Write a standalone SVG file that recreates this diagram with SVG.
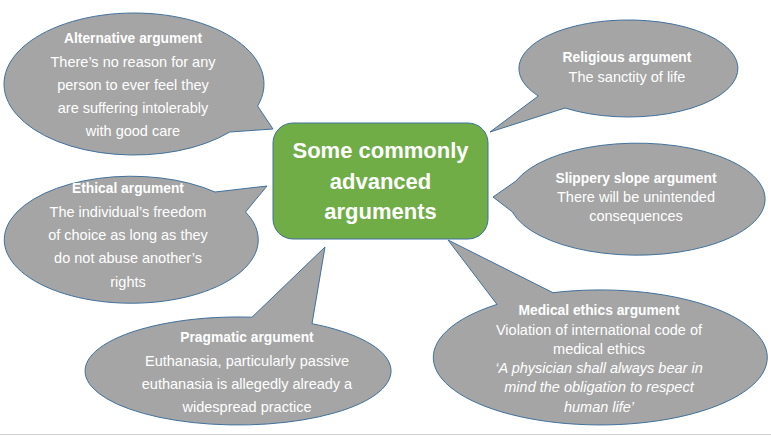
<svg xmlns="http://www.w3.org/2000/svg" width="771" height="436" viewBox="0 0 771 436">
  <style>
    .bubble { fill: #A5A5A5; stroke: #41719C; stroke-width: 1; }
    .t { font-family: "Liberation Sans", Arial, sans-serif; fill: #FFFFFF; text-anchor: middle; }
    .h { font-size: 13.8px; font-weight: bold; }
    .b { font-size: 14.5px; }
    .i { font-style: italic; }
    .center { fill: #70AD47; stroke: #41719C; stroke-width: 1; }
    .ct { font-family: "Liberation Sans", Arial, sans-serif; fill: #FFFFFF; text-anchor: middle; font-size: 22px; font-weight: bold; }
  </style>
  <rect x="0" y="0" width="771" height="436" fill="#FFFFFF"/>
  <line x1="0" y1="434.5" x2="771" y2="434.5" stroke="#D0D0D0" stroke-width="1.2"/>

  <g id="center-node">
    <rect class="center" x="273" y="123" width="215" height="116" rx="20" ry="20"/>
    <text class="ct" x="380.5" y="158">Some commonly</text>
    <text class="ct" x="380.5" y="189">advanced</text>
    <text class="ct" x="380.5" y="219">arguments</text>
  </g>

  <g id="alternative-argument">
    <path class="bubble" d="M 257.6,106 L 273,129 L 229.8,132 A 130 71 0 1 1 257.6,106 Z"/>
    <text class="t h" x="133" y="43">Alternative argument</text>
    <text class="t b" x="133" y="67">There’s no reason for any</text>
    <text class="t b" x="133" y="90">person to ever feel they</text>
    <text class="t b" x="133" y="113">are suffering intolerably</text>
    <text class="t b" x="133" y="136">with good care</text>
  </g>

  <g id="religious-argument">
    <path class="bubble" d="M 538.3,96 L 490,132 L 565,108 A 109.5 48.5 0 1 0 538.3,96 Z"/>
    <text class="t h" x="627" y="62">Religious argument</text>
    <text class="t b" x="627" y="82">The sanctity of life</text>
  </g>

  <g id="ethical-argument">
    <path class="bubble" d="M 215,192 L 267,186 L 245.5,212 A 127 63.5 0 1 1 215,192 Z"/>
    <text class="t h" x="128" y="193">Ethical argument</text>
    <text class="t b" x="128" y="217">The individual’s freedom</text>
    <text class="t b" x="128" y="240">of choice as long as they</text>
    <text class="t b" x="128" y="263">do not abuse another’s</text>
    <text class="t b" x="128" y="287">rights</text>
  </g>

  <g id="slippery-slope-argument">
    <path class="bubble" d="M 516,181 L 493,197 L 512.5,212 A 128 56 0 1 0 516,181 Z"/>
    <text class="t h" x="636" y="183">Slippery slope argument</text>
    <text class="t b" x="636" y="202">There will be unintended</text>
    <text class="t b" x="636" y="221">consequences</text>
  </g>

  <g id="pragmatic-argument">
    <path class="bubble" d="M 252,317.2 L 325,247 L 312,323.7 A 153 54 0 1 1 252,317.2 Z"/>
    <text class="t h" x="247" y="342">Pragmatic argument</text>
    <text class="t b" x="247" y="366">Euthanasia, particularly passive</text>
    <text class="t b" x="247" y="389">euthanasia is allegedly already a</text>
    <text class="t b" x="247" y="412">widespread practice</text>
  </g>

  <g id="medical-ethics-argument">
    <path class="bubble" d="M 497,304.4 L 448,240 L 553,292.7 A 167 67.5 0 1 1 497,304.4 Z"/>
    <text class="t h" x="599" y="315">Medical ethics argument</text>
    <text class="t b" x="599" y="335">Violation of international code of</text>
    <text class="t b" x="599" y="354">medical ethics</text>
    <text class="t b i" x="599" y="373">‘A physician shall always bear in</text>
    <text class="t b i" x="599" y="392">mind the obligation to respect</text>
    <text class="t b i" x="599" y="412">human life’</text>
  </g>
</svg>
